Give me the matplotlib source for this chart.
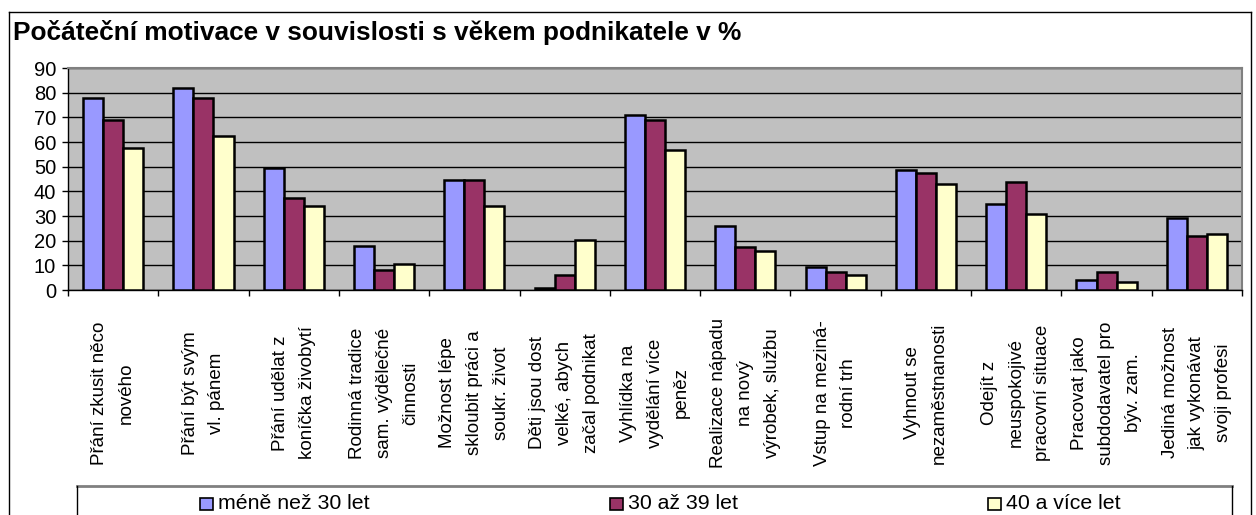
import matplotlib
matplotlib.use("Agg")
import matplotlib.pyplot as plt
import numpy as np
from matplotlib.patches import Rectangle
from matplotlib.lines import Line2D

plt.rcParams['font.family'] = ['Liberation Sans', 'DejaVu Sans']

title = "Počáteční motivace v souvislosti s věkem podnikatele v %"
categories = [
    "Přání zkusit něco\nnového",
    "Přání být svým\nvl. pánem",
    "Přání udělat z\nkoníčka živobytí",
    "Rodinná tradice\nsam. výdělečné\nčinnosti",
    "Možnost lépe\nskloubit práci a\nsoukr. život",
    "Děti jsou dost\nvelké, abych\nzačal podnikat",
    "Vyhlídka na\nvydělání více\npeněz",
    "Realizace nápadu\nna nový\nvýrobek, službu",
    "Vstup na meziná-\nrodní trh",
    "Vyhnout se\nnezaměstnanosti",
    "Odejít z\nneuspokojivé\npracovní situace",
    "Pracovat jako\nsubdodavatel pro\nbýv. zam.",
    "Jediná možnost\njak vykonávat\nsvoji profesi",
]
series_names = ["méně než 30 let", "30 až 39 let", "40 a více let"]
under30 = [78, 82, 49.5, 17.8, 44.4, 0.7, 71.1, 25.8, 9.5, 48.5, 34.7, 3.9, 29.0]
age30_39 = [69, 78, 37.2, 8.1, 44.4, 6.2, 69.0, 17.6, 7.3, 47.6, 43.6, 7.2, 21.7]
age40plus = [57.7, 62.4, 33.9, 10.5, 33.9, 20.1, 56.7, 16.0, 6.1, 42.9, 30.7, 3.1, 22.7]
yticks = [0, 10, 20, 30, 40, 50, 60, 70, 80, 90]

colors = ["#9999FF", "#993366", "#FFFFCC"]
W, H = 1256, 515
fig = plt.figure(figsize=(W / 100, H / 100), dpi=100)
fig.patch.set_facecolor("white")

# plot area in pixels
px_l, px_r, px_t, px_b = 68, 1242, 68, 290
ax = fig.add_axes([px_l / W, 1 - px_b / H, (px_r - px_l) / W, (px_b - px_t) / H])
ax.set_facecolor("#C0C0C0")

n = len(categories)
x = np.arange(n)
bw = 1 / 4.5
data = [under30, age30_39, age40plus]
for i, (vals, c) in enumerate(zip(data, colors)):
    ax.bar(x + (i - 1) * bw, vals, width=bw, color=c, edgecolor="black",
           linewidth=1.8, zorder=3)

ax.set_xlim(-0.5, n - 0.5)
ax.set_ylim(0, 90)
ax.set_yticks(yticks)
ax.set_yticklabels([str(v) for v in yticks], fontsize=14.5)
ax.yaxis.grid(True, color="black", linewidth=1.0, zorder=1)
ax.set_axisbelow(True)
ax.tick_params(axis="y", direction="out", length=4.5, width=1, pad=4, colors="black")

ax.set_xticks([])
ax.set_xticks(np.arange(n + 1) - 0.5, minor=True)
ax.tick_params(axis="x", which="minor", direction="out", length=4, width=1, labelbottom=False)

for s in ["top", "right"]:
    ax.spines[s].set_color("#808080")
    ax.spines[s].set_linewidth(1.5)
for s in ["left", "bottom"]:
    ax.spines[s].set_color("black")
    ax.spines[s].set_linewidth(1.0)

# category labels (rotated, centered)
lab_y = (px_b - 393) / (px_b - px_t)
for xi, lab in zip(x, categories):
    ax.text(xi, lab_y, lab, transform=ax.get_xaxis_transform(), rotation=90,
            ha="center", va="center", multialignment="center", fontsize=13.5,
            linespacing=1.75, clip_on=False)

# title
fig.text(13 / W, 1 - 40 / H, title, fontsize=18.9, fontweight="bold", ha="left",
         va="baseline")

# outer frame
def fl(x0, y0, x1, y1, color="black", lw=1.0):
    fig.add_artist(Line2D([x0 / W, x1 / W], [1 - y0 / H, 1 - y1 / H],
                          color=color, linewidth=lw, transform=fig.transFigure))

fl(9, 12, 1251, 12)
fl(9, 12, 9, 520)
fl(1251, 12, 1251, 520)

# legend box
fl(77, 486, 1232, 486, color="#808080", lw=2)
fl(77, 486, 77, 520)
fl(1232, 486, 1232, 520)

sq_x = [200, 610, 988]
for sx, name, c in zip(sq_x, series_names, colors):
    fig.add_artist(Rectangle((sx / W, 1 - 510 / H), 13 / W, 12 / H,
                             facecolor=c, edgecolor="black", linewidth=1.2,
                             transform=fig.transFigure))
    fig.text((sx + 18) / W, 1 - 509 / H, name, fontsize=15.3, ha="left", va="baseline")

fig.savefig("out.png", dpi=100)
